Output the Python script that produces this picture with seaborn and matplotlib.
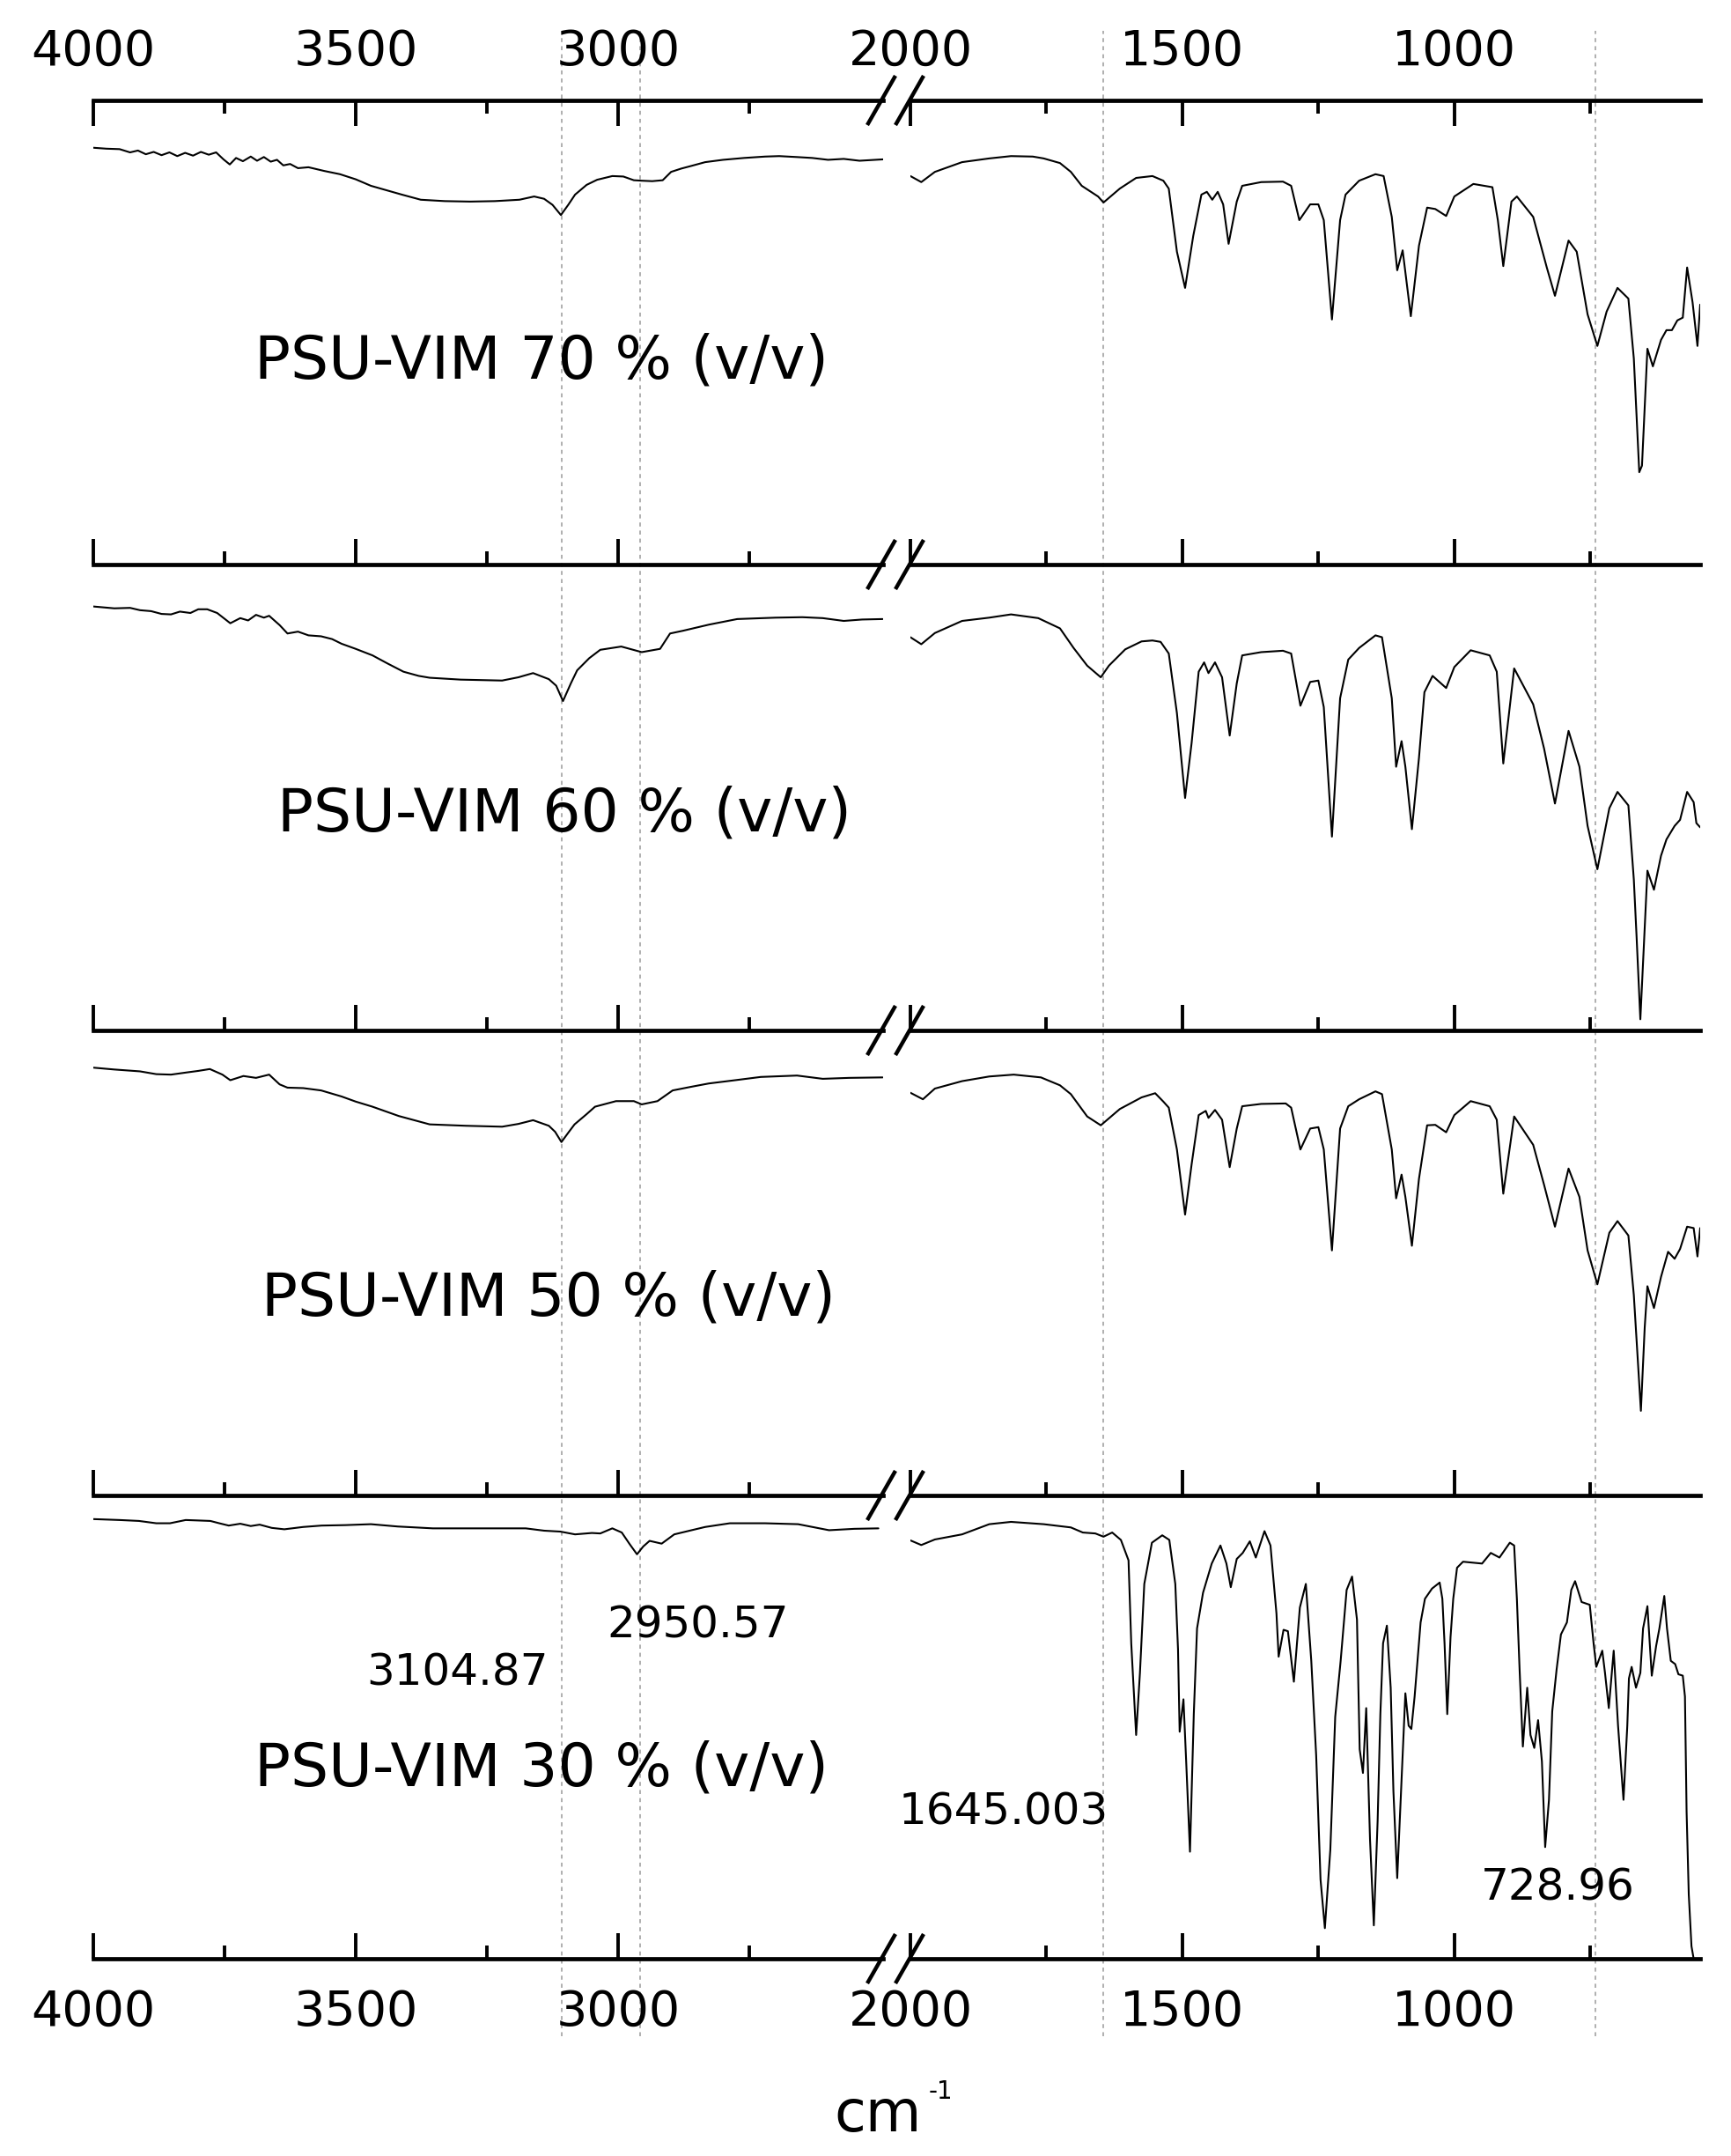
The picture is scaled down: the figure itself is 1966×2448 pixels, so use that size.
import matplotlib
matplotlib.use("Agg")
import matplotlib.pyplot as plt
from matplotlib.lines import Line2D
import seaborn as sns

# ---------------- data ----------------
sample_labels = ["PSU-VIM 70 % (v/v)", "PSU-VIM 60 % (v/v)",
                 "PSU-VIM 50 % (v/v)", "PSU-VIM 30 % (v/v)"]

# 70 %
wn70L = [4000, 3975, 3950, 3930, 3915, 3900, 3885, 3870, 3855, 3840, 3825, 3810, 3795, 3780, 3766,
         3752, 3740, 3728, 3715, 3700, 3688, 3675, 3662, 3650, 3638, 3625, 3610, 3590, 3560, 3530,
         3500, 3471, 3440, 3412, 3376, 3330, 3282, 3235, 3188, 3160, 3141, 3125, 3109, 3095, 3082,
         3060, 3040, 3011, 2990, 2970, 2955, 2935, 2915, 2899, 2880, 2860, 2834, 2800, 2760, 2720,
         2693, 2660, 2630, 2600, 2570, 2540, 2495]
t70L = [89.8, 89.6, 89.5, 88.8, 89.2, 88.4, 88.9, 88.2, 88.8, 88.0, 88.7, 88.1, 88.9, 88.3, 88.8,
        87.3, 86.2, 87.6, 86.9, 87.9, 87.0, 87.8, 86.8, 87.2, 86.0, 86.3, 85.4, 85.6, 84.8, 84.1,
        83.0, 81.6, 80.6, 79.7, 78.6, 78.3, 78.2, 78.3, 78.6, 79.3, 78.8, 77.5, 75.3, 77.5, 79.7,
        81.8, 82.9, 83.7, 83.6, 82.8, 82.7, 82.6, 82.8, 84.6, 85.3, 85.9, 86.7, 87.2, 87.6, 87.9,
        88.0, 87.8, 87.6, 87.2, 87.4, 87.0, 87.3]
wn70R = [2000, 1980, 1955, 1905, 1855, 1815, 1775, 1755, 1725, 1705, 1685, 1655, 1645, 1615, 1585,
         1555, 1535, 1525, 1510, 1495, 1480, 1465, 1455, 1445, 1435, 1425, 1415, 1400, 1390, 1355,
         1315, 1300, 1285, 1265, 1250, 1240, 1225, 1210, 1200, 1175, 1145, 1130, 1115, 1105, 1095,
         1080, 1065, 1050, 1035, 1015, 1000, 965, 930, 920, 910, 895, 885, 855, 830, 815,
         790, 775, 755, 737, 720, 700, 680, 670, 660, 655, 645, 635, 620, 610, 600,
         590, 580, 572, 562, 553, 548]
t70R = [83.7, 82.4, 84.6, 86.7, 87.5, 88.0, 87.9, 87.5, 86.5, 84.6, 81.6, 79.3, 78.0, 81.0, 83.3,
        83.7, 82.7, 81.0, 67.4, 59.6, 70.8, 79.7, 80.3, 78.6, 80.3, 77.6, 69.1, 78.2, 81.6, 82.4,
        82.5, 81.6, 74.2, 77.6, 77.6, 74.2, 52.8, 74.2, 79.7, 82.7, 84.1, 83.7, 74.9, 63.4, 67.7,
        53.5, 68.7, 76.9, 76.6, 75.1, 79.3, 82.0, 81.3, 74.2, 64.3, 78.2, 79.3, 74.9, 64.0, 57.9,
        69.8, 67.4, 53.9, 47.1, 54.5, 59.6, 57.3, 44.4, 19.9, 21.3, 46.5, 42.7, 48.4, 50.5, 50.5,
        52.6, 53.2, 64.0, 56.5, 47.1, 56.0]

# 60 %
wn60L = [4000, 3960, 3930, 3911, 3890, 3870, 3852, 3835, 3815, 3800, 3783, 3764, 3739, 3720, 3705,
         3690, 3675, 3665, 3645, 3630, 3610, 3590, 3566, 3545, 3527, 3500, 3468, 3440, 3409, 3380,
         3359, 3300, 3221, 3190, 3162, 3132, 3118, 3105, 3090, 3078, 3055, 3034, 2994, 2955, 2920,
         2901, 2876, 2827, 2773, 2700, 2649, 2610, 2570, 2535, 2496]
t60L = [91.0, 90.6, 90.7, 90.2, 90.0, 89.4, 89.3, 89.9, 89.6, 90.4, 90.4, 89.6, 87.4, 88.5, 88.0,
        89.2, 88.6, 89.0, 87.0, 85.2, 85.6, 84.8, 84.6, 84.0, 83.0, 81.9, 80.5, 78.8, 77.0, 76.1,
        75.7, 75.3, 75.1, 75.8, 76.7, 75.4, 74.0, 70.7, 74.5, 77.3, 79.9, 81.7, 82.4, 81.2, 81.9,
        85.2, 85.8, 87.1, 88.3, 88.6, 88.7, 88.5, 87.9, 88.2, 88.3]
wn60R = [2000, 1980, 1955, 1905, 1855, 1815, 1765, 1725, 1700, 1675, 1650, 1635, 1605, 1575, 1555,
         1540, 1525, 1510, 1495, 1483, 1470, 1460, 1452, 1440, 1427, 1413, 1400, 1390, 1355, 1315,
         1300, 1283, 1265, 1250, 1240, 1225, 1210, 1195, 1175, 1145, 1133, 1115, 1107, 1097, 1090,
         1078, 1065, 1055, 1040, 1015, 1000, 970, 935, 922, 910, 890, 855, 835, 815, 790,
         770, 755, 737, 715, 700, 680, 670, 665, 658, 652, 645, 633, 620, 610, 595,
         585, 572, 560, 555, 548]
t60R = [84.4, 82.9, 85.3, 87.9, 88.6, 89.3, 88.5, 86.3, 82.1, 78.3, 75.8, 78.3, 81.8, 83.5, 83.7,
        83.4, 80.9, 68.1, 49.9, 61.7, 77.0, 79.0, 76.7, 79.0, 75.8, 63.3, 74.5, 80.5, 81.2, 81.5,
        80.9, 69.7, 74.8, 75.1, 69.4, 41.6, 71.3, 79.6, 82.1, 84.8, 84.4, 71.3, 56.6, 62.1, 56.6,
        43.2, 58.5, 72.6, 76.1, 73.5, 78.0, 81.6, 80.5, 77.0, 57.3, 77.7, 70.0, 60.5, 48.7, 64.3,
        56.6, 43.9, 34.6, 47.7, 51.2, 48.3, 32.4, 20.3, 2.4, 17.1, 34.3, 30.2, 37.5, 41.0, 43.9,
        45.2, 51.2, 49.0, 44.5, 43.6]

# 50 %
wn50L = [4000, 3960, 3911, 3880, 3852, 3820, 3800, 3778, 3754, 3739, 3714, 3690, 3665, 3645, 3630,
         3600, 3566, 3527, 3500, 3468, 3418, 3359, 3290, 3221, 3190, 3162, 3132, 3120, 3108, 3095,
         3083, 3060, 3044, 3004, 2970, 2955, 2925, 2896, 2860, 2827, 2777, 2728, 2659, 2610, 2560,
         2496]
t50L = [92.0, 91.6, 91.2, 90.6, 90.5, 91.0, 91.3, 91.7, 90.5, 89.3, 90.2, 89.8, 90.5, 88.4, 87.7,
        87.6, 87.1, 85.8, 84.7, 83.6, 81.6, 79.8, 79.5, 79.3, 79.9, 80.7, 79.5, 78.2, 76.0, 78.0,
        79.8, 82.0, 83.6, 84.8, 84.8, 84.1, 84.8, 87.1, 87.9, 88.6, 89.3, 90.0, 90.3, 89.6, 89.8,
        89.9]
wn50R = [2000, 1977, 1955, 1905, 1855, 1810, 1760, 1725, 1705, 1675, 1650, 1615, 1575, 1550, 1535,
         1525, 1510, 1495, 1483, 1470, 1457, 1452, 1440, 1427, 1413, 1400, 1390, 1355, 1310, 1300,
         1283, 1265, 1250, 1240, 1225, 1210, 1195, 1175, 1145, 1133, 1115, 1107, 1097, 1090, 1078,
         1065, 1050, 1035, 1015, 1000, 970, 935, 922, 910, 890, 855, 835, 815, 790, 770,
         755, 737, 715, 700, 680, 670, 657, 650, 645, 633, 620, 607, 595, 585, 572,
         560, 553, 548]
t50R = [86.6, 85.2, 87.5, 89.1, 90.1, 90.5, 89.9, 88.2, 86.3, 81.5, 79.6, 83.1, 85.6, 86.5, 84.7,
        83.4, 74.4, 60.4, 71.2, 81.8, 82.7, 81.2, 82.9, 80.8, 70.6, 78.9, 83.7, 84.2, 84.3, 83.4,
        74.4, 78.9, 79.2, 74.4, 52.7, 78.9, 83.7, 85.2, 86.9, 86.3, 74.4, 63.9, 69.0, 64.2, 53.7,
        68.1, 79.6, 79.7, 78.1, 81.8, 84.8, 83.7, 80.8, 64.9, 81.5, 75.4, 66.8, 57.8, 70.3, 64.2,
        52.7, 45.4, 56.5, 59.0, 55.9, 43.1, 18.2, 36.1, 45.0, 40.3, 47.0, 52.4, 50.9, 53.0, 57.8,
        57.5, 51.4, 57.5]

# 30 %
wn30L = [4000, 3950, 3913, 3880, 3854, 3824, 3800, 3777, 3760, 3742, 3720, 3700, 3683, 3660, 3636,
         3600, 3565, 3520, 3471, 3420, 3353, 3250, 3176, 3141, 3110, 3082, 3050, 3034, 3011, 2993,
         2978, 2964, 2952, 2940, 2917, 2893, 2860, 2834, 2787, 2720, 2657, 2598, 2550, 2504]
t30L = [94.9, 94.7, 94.5, 94.0, 94.0, 94.7, 94.6, 94.5, 94.0, 93.5, 93.9, 93.4, 93.7, 93.0, 92.7,
        93.2, 93.5, 93.6, 93.8, 93.3, 92.9, 92.9, 92.9, 92.4, 92.2, 91.6, 91.9, 91.8, 92.9, 92.0,
        89.5, 87.3, 89.0, 90.2, 89.6, 91.6, 92.5, 93.2, 94.0, 94.0, 93.8, 92.5, 92.8, 92.9]
wn30R = [2000, 1980, 1955, 1905, 1855, 1815, 1755, 1705, 1683, 1660,
         1645, 1629, 1613, 1599, 1594, 1585, 1578, 1570, 1556, 1537,
         1524, 1513, 1508, 1505, 1498, 1493, 1486, 1479, 1473, 1462,
         1446, 1430, 1419, 1411, 1400, 1389, 1376, 1365, 1349, 1338,
         1327, 1323, 1314, 1306, 1295, 1284, 1273, 1263, 1254, 1246,
         1238, 1228, 1219, 1209, 1198, 1188, 1179, 1174, 1168, 1162,
         1155, 1148, 1141, 1136, 1131, 1124, 1117, 1112, 1105, 1098,
         1090, 1084, 1079, 1073, 1062, 1054, 1041, 1027, 1022, 1018,
         1013, 1007, 1002, 995, 984, 949, 933, 917, 898, 890,
         885, 880, 874, 866, 860, 853, 846, 839, 833, 826,
         820, 812, 804, 793, 785, 778, 766, 751, 744, 739,
         728, 723, 716, 707, 699, 689, 682, 679, 674, 666,
         658, 653, 645, 637, 629, 623, 614, 609, 602, 594,
         588, 580, 576, 573, 569, 564, 560]
t30R = [90.3, 89.3, 90.5, 91.6, 93.8, 94.3, 93.8, 93.1, 92.0, 91.8,
        91.1, 92.0, 90.4, 86.0, 68.1, 48.3, 61.7, 80.9, 89.8, 91.4,
        90.4, 80.9, 66.8, 49.0, 56.0, 42.6, 23.1, 52.8, 71.3, 79.0,
        85.3, 89.2, 85.3, 80.2, 86.3, 87.6, 90.1, 86.6, 92.3, 89.2,
        74.5, 65.2, 71.0, 70.7, 59.8, 75.8, 80.9, 64.3, 43.9, 17.1,
        6.6, 23.5, 52.2, 64.3, 79.6, 82.5, 73.2, 45.2, 40.1, 54.1,
        25.7, 7.2, 29.8, 52.8, 68.1, 71.9, 58.5, 36.2, 17.4, 36.2,
        57.3, 50.3, 49.6, 56.6, 72.6, 77.7, 79.9, 81.2, 77.7, 68.1,
        52.8, 69.4, 77.7, 84.4, 85.7, 85.3, 87.6, 86.6, 89.8, 89.2,
        77.7, 62.4, 45.8, 58.5, 48.3, 45.5, 51.5, 42.6, 24.1, 34.3,
        53.4, 62.4, 70.0, 72.6, 79.6, 81.5, 77.0, 76.4, 68.1, 63.0,
        66.5, 61.7, 54.1, 66.5, 50.3, 34.3, 50.3, 60.5, 63.0, 58.5,
        61.7, 71.3, 76.1, 61.1, 67.5, 71.3, 78.3, 71.3, 64.3, 63.6,
        61.4, 61.1, 56.6, 31.8, 13.9, 2.7, 0.0]

left_major = [4000, 3500, 3000]
left_minor = [3750, 3250, 2750]
right_major = [2000, 1500, 1000]
right_minor = [1750, 1250, 750]

mark_pos_left = [3107, 2958]     # dashed guide positions (as drawn)
mark_pos_right = [1645, 740]
mark_labels = ["3104.87", "2950.57", "1645.003", "728.96"]

series = [(wn70L, t70L, wn70R, t70R), (wn60L, t60L, wn60R, t60R),
          (wn50L, t50L, wn50R, t50R), (wn30L, t30L, wn30R, t30R)]

# ---------------- style / layout ----------------
sns.set_theme(style="white")
plt.rcParams["font.family"] = ["DejaVu Sans"]
plt.rcParams["text.color"] = "black"
plt.rcParams["xtick.color"] = "black"

W, H = 1966, 2448
fig = plt.figure(figsize=(W / 100, H / 100), dpi=100)
fig.patch.set_facecolor("white")


def fx(px):
    return px / W


def fy(px):
    return 1 - px / H


LX0, LX1 = 106, 1003
RX0, RX1 = 1034, 1931
rows = [114, 641, 1170, 1698, 2224]
LXLIM = (4000, 2495)
RXLIM = (2000, 548)

# dashed guide lines (overlay axes spanning the full height)
gy0, gy1 = 35, 2312
for (x0, x1, lim, pos) in [(LX0, LX1, LXLIM, mark_pos_left), (RX0, RX1, RXLIM, mark_pos_right)]:
    ov = fig.add_axes([fx(x0), fy(gy1), fx(x1) - fx(x0), (gy1 - gy0) / H], zorder=0)
    ov.set_xlim(*lim)
    ov.set_ylim(0, 1)
    ov.axis("off")
    for p in pos:
        ov.axvline(p, color="#9a9a9a", lw=1.1, ls=(0, (3, 3)))

SPINE_LW = 3.4
for i in range(4):
    top, bot = rows[i], rows[i + 1]
    wl, tl, wr, tr = series[i]
    for (x0, x1, lim, wn, tv, maj, mnr) in [
            (LX0, LX1, LXLIM, wl, tl, left_major, left_minor),
            (RX0, RX1, RXLIM, wr, tr, right_major, right_minor)]:
        ax = fig.add_axes([fx(x0), fy(bot), fx(x1) - fx(x0), (bot - top) / H], zorder=1)
        ax.set_facecolor("none")
        sns.lineplot(x=wn, y=tv, ax=ax, color="black", linewidth=1.5,
                     estimator=None, sort=False, legend=False)
        ax.set_xlim(*lim)
        ax.set_ylim(0, 100)
        ax.set_yticks([])
        ax.set_xlabel("")
        ax.set_ylabel("")
        ax.set_xticks(maj)
        ax.set_xticks(mnr, minor=True)
        for s in ["left", "right"]:
            ax.spines[s].set_visible(False)
        ax.spines["top"].set_visible(i == 0)
        for s in ["top", "bottom"]:
            ax.spines[s].set_linewidth(SPINE_LW)
            ax.spines[s].set_color("black")
        ax.tick_params(axis="x", which="both", direction="in", width=2.8, colors="black",
                       top=(i == 0), bottom=True, labeltop=(i == 0), labelbottom=(i == 3),
                       labelsize=40)
        ax.tick_params(axis="x", which="major", length=21, pad=(20 if i == 0 else 24))
        ax.tick_params(axis="x", which="minor", length=11)

# break marks "//"
for yb in rows:
    for xc in [1001, 1033]:
        fig.add_artist(Line2D([fx(xc - 16), fx(xc + 16)], [fy(yb + 28), fy(yb - 28)],
                              transform=fig.transFigure, color="black", lw=3.2,
                              solid_capstyle="butt"))

# sample labels
label_pos = [(615, 430), (641, 944), (623, 1493), (615, 2027)]
for lab, (px, py) in zip(sample_labels, label_pos):
    fig.text(fx(px), fy(py), lab, ha="center", va="baseline", fontsize=49)

# peak annotations
ann_pos = [(519, 1914), (793, 1860), (1140, 2071), (1769, 2158)]
for lab, (px, py) in zip(mark_labels, ann_pos):
    fig.text(fx(px), fy(py), lab, ha="center", va="baseline", fontsize=36)

# axis title cm-1
fig.text(fx(997), fy(2420), "cm", ha="center", va="baseline", fontsize=47)
fig.text(fx(1068), fy(2383), "-1", ha="center", va="baseline", fontsize=20)

fig.savefig("out.png", dpi=100, facecolor="white")
